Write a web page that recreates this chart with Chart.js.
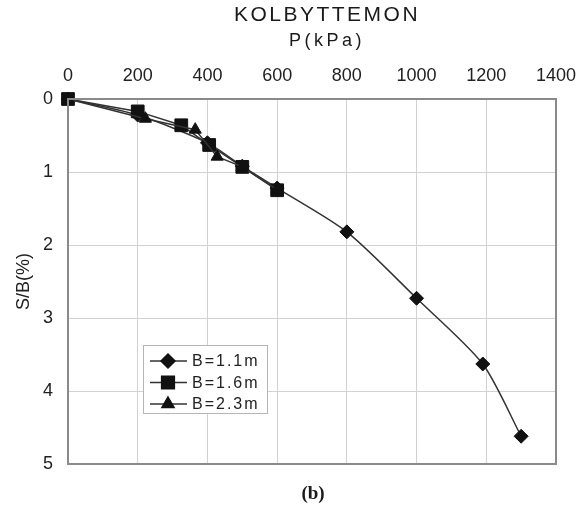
<!DOCTYPE html>
<html><head><meta charset="utf-8">
<script src="https://cdn.jsdelivr.net/npm/chart.js@4/dist/chart.umd.min.js"></script>
<style>html,body{margin:0;padding:0;background:#fff}#wrap{width:583px;height:508px;position:relative}</style>
</head><body><div id="wrap"><canvas id="c" width="583" height="508"></canvas></div>
<script>
const chartTitle = 'KOLBYTTEMON';
const xAxisTitle = 'P(kPa)';
const yAxisTitle = 'S/B(%)';
const panelLabel = '(b)';
const seriesNames = ['B=1.1m', 'B=1.6m', 'B=2.3m'];

const pressureB11 = [0, 200, 400, 500, 600, 800, 1000, 1190, 1300];
const settleB11   = [0, 0.22, 0.60, 0.92, 1.22, 1.82, 2.73, 3.63, 4.62];
const pressureB16 = [0, 200, 325, 405, 500, 600];
const settleB16   = [0, 0.17, 0.36, 0.63, 0.93, 1.25];
const pressureB23 = [0, 222, 365, 428, 500, 600];
const settleB23   = [0, 0.27, 0.42, 0.79, 0.93, 1.24];

const xTicks = [0, 200, 400, 600, 800, 1000, 1200, 1400];
const yTicks = [0, 1, 2, 3, 4, 5];

const toPts = (xs, ys) => xs.map((x, i) => ({x: x, y: ys[i]}));
const FONT = '"Liberation Sans", Arial, sans-serif';

const frameAndText = {
  id: 'frameAndText',
  afterDatasetsDraw(chart) {
    const {ctx, chartArea: a} = chart;
    ctx.save();
    ctx.strokeStyle = '#8a8a8a';
    ctx.lineWidth = 2;
    ctx.strokeRect(a.left, a.top, a.right - a.left, a.bottom - a.top);
    // legend
    const lx = 143, ly = 345, lw = 124, lh = 68;
    ctx.fillStyle = '#fff';
    ctx.fillRect(lx, ly, lw, lh);
    ctx.strokeStyle = '#b5b5b5';
    ctx.lineWidth = 1;
    ctx.strokeRect(lx + 0.5, ly + 0.5, lw, lh);
    chart.data.datasets.forEach((ds, i) => {
      const y = 361 + i * 21.5;
      ctx.strokeStyle = ds.borderColor;
      ctx.lineWidth = 1.5;
      ctx.beginPath(); ctx.moveTo(150, y); ctx.lineTo(187, y); ctx.stroke();
      ctx.fillStyle = ds.pointBackgroundColor;
      ctx.strokeStyle = ds.pointBorderColor;
      Chart.helpers.drawPoint(ctx, {pointStyle: ds.pointStyle, radius: ds.pointRadius, borderWidth: 1, rotation: 0}, 168, y);
      ctx.fillStyle = '#222';
      ctx.font = '16px ' + FONT;
      ctx.letterSpacing = '2px';
      ctx.textAlign = 'left'; ctx.textBaseline = 'middle';
      ctx.fillText(ds.label, 192, y + 1);
    });
    ctx.restore();
  },
  afterDraw(chart) {
    const {ctx} = chart;
    ctx.save();
    ctx.fillStyle = '#1a1a1a';
    ctx.textAlign = 'center'; ctx.textBaseline = 'middle';
    ctx.font = '21px ' + FONT;
    ctx.letterSpacing = '2.5px';
    ctx.fillText(chartTitle, 327, 15);
    ctx.font = '18px ' + FONT;
    ctx.letterSpacing = '3.5px';
    ctx.fillText(xAxisTitle, 327, 41);
    ctx.letterSpacing = '0px';
    ctx.font = 'bold 19px "Liberation Serif", "Times New Roman", serif';
    ctx.fillText(panelLabel, 313, 494);
    ctx.restore();
  }
};

const baseDs = {borderColor: '#333', borderWidth: 1.5, pointBackgroundColor: '#111', pointBorderColor: '#111', pointBorderWidth: 1, clip: false, fill: false};

new Chart(document.getElementById('c'), {
  type: 'scatter',
  data: {
    datasets: [
      Object.assign({}, baseDs, {label: seriesNames[0], data: toPts(pressureB11, settleB11), pointStyle: 'rectRot', pointRadius: 7, showLine: true, tension: 0.25, order: 3}),
      Object.assign({}, baseDs, {label: seriesNames[1], data: toPts(pressureB16, settleB16), pointStyle: 'rect', pointRadius: 9, showLine: true, tension: 0, order: 2}),
      Object.assign({}, baseDs, {label: seriesNames[2], data: toPts(pressureB23, settleB23), pointStyle: 'triangle', pointRadius: 7, showLine: true, tension: 0, order: 1})
    ]
  },
  options: {
    responsive: false,
    animation: false,
    devicePixelRatio: 1,
    layout: {padding: {left: 0, top: 0, right: 27, bottom: 44}},
    plugins: {legend: {display: false}, tooltip: {enabled: false}, title: {display: false}},
    scales: {
      x: {
        type: 'linear', position: 'top', min: 0, max: 1400,
        afterBuildTicks: s => { s.ticks = xTicks.map(v => ({value: v})); },
        afterFit: s => { s.height = 99; s.paddingLeft = 0; s.paddingRight = 0; },
        ticks: {color: '#222', font: {family: FONT, size: 18}, padding: 12, maxRotation: 0, callback: v => String(v)},
        grid: {color: '#d2d2d2', lineWidth: 1, drawTicks: false},
        border: {color: '#8a8a8a', width: 2},
        title: {display: false, text: xAxisTitle}
      },
      y: {
        type: 'linear', reverse: true, min: 0, max: 5,
        afterBuildTicks: s => { s.ticks = yTicks.map(v => ({value: v})); },
        afterFit: s => { s.width = 68; s.paddingTop = 0; s.paddingBottom = 0; },
        ticks: {color: '#222', font: {family: FONT, size: 18}, padding: 15, callback: v => String(v)},
        grid: {color: '#d2d2d2', lineWidth: 1, drawTicks: false},
        border: {color: '#8a8a8a', width: 2},
        title: {display: true, text: yAxisTitle, color: '#222', font: {family: FONT, size: 18}, padding: {top: 13, bottom: 0}}
      }
    }
  },
  plugins: [frameAndText]
});
</script></body></html>
